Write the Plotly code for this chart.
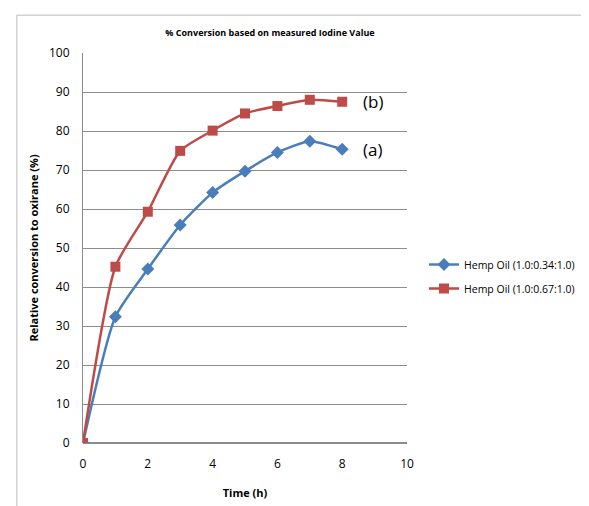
import plotly.graph_objects as go

time_h = [0, 1, 2, 3, 4, 5, 6, 7, 8]
conv_a = [0, 32.4, 44.6, 55.9, 64.2, 69.7, 74.5, 77.4, 75.3]
conv_b = [0, 45.2, 59.3, 74.9, 80.1, 84.5, 86.4, 88.0, 87.5]
name_a = "Hemp Oil (1.0:0.34:1.0)"
name_b = "Hemp Oil (1.0:0.67:1.0)"

blue = "#4A7EBB"
red = "#BE4B48"
font = "Open Sans, Liberation Sans, sans-serif"

# page body has an 8px margin, so the figure is laid out 8px smaller
W, H = 581, 498

fig = go.Figure()
fig.add_trace(go.Scatter(
    x=time_h, y=conv_a, name=name_a, mode="lines+markers", legendgroup="a",
    line=dict(color=blue, width=2.5, shape="spline", smoothing=0.6),
    marker=dict(symbol="diamond", size=10, color=blue)))
fig.add_trace(go.Scatter(
    x=time_h, y=conv_b, name=name_b, mode="lines+markers", legendgroup="b",
    line=dict(color=red, width=2.5, shape="spline", smoothing=0.6),
    marker=dict(symbol="square", size=10, color=red)))

# callouts next to the last point of each curve
fig.add_annotation(x=time_h[-1], y=conv_b[-1], text="(b)", xanchor="left",
                   xshift=19, showarrow=False, font=dict(size=17, color="black"))
fig.add_annotation(x=time_h[-1], y=conv_a[-1], text="(a)", xanchor="left",
                   xshift=19, showarrow=False, font=dict(size=17, color="black"))

# chart-area border (left and top edges visible in the reference)
fig.add_shape(type="path", xref="paper", yref="paper",
              path="M -0.204 -0.2 L -0.204 1.097 L 1.6 1.097",
              line=dict(color="#BBBBBB", width=1))

fig.update_layout(
    width=W, height=H,
    margin=dict(l=75, r=182, t=45, b=63, autoexpand=False),
    paper_bgcolor="white", plot_bgcolor="white",
    font=dict(family=font, size=12, color="black"),
    title=dict(text="<b>% Conversion based on measured Iodine Value</b>",
               x=262 / W, xanchor="center", xref="container",
               y=1 - 25 / H, yanchor="middle", font=dict(size=9)),
    showlegend=True,
    legend=dict(x=416 / W, y=1 - 242 / H, xref="container", yref="container",
                xanchor="left", yanchor="top", traceorder="grouped",
                font=dict(size=10.5), tracegroupgap=5, itemwidth=30,
                bgcolor="rgba(0,0,0,0)"),
    xaxis=dict(range=[0, 10], tickvals=[0, 2, 4, 6, 8, 10], showgrid=False,
               zeroline=False, showline=False, ticks="", ticklabelstandoff=12,
               automargin=False,
               title=dict(text="<b>Time (h)</b>", font=dict(size=11), standoff=18)),
    yaxis=dict(range=[0, 100], dtick=10, showgrid=True, gridcolor="#8C8C8C",
               gridwidth=1, zeroline=True, zerolinecolor="#8C8C8C",
               showline=True, linecolor="#8C8C8C", ticks="",
               ticklabelstandoff=10, automargin=False,
               title=dict(text="<b>Relative conversion to oxirane (%)</b>",
                          font=dict(size=11), standoff=8)),
)

fig.write_html("out.html")
